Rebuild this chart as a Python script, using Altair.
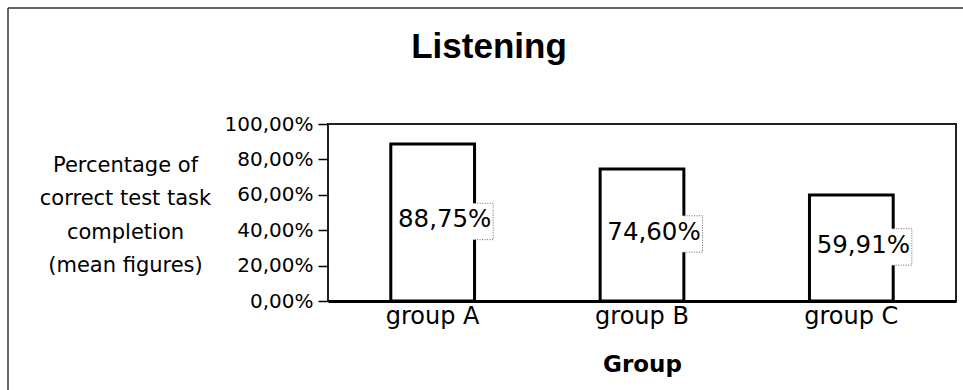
import altair as alt
import pandas as pd

# Mean share of correctly completed listening tasks per group
groups = ["group A", "group B", "group C"]
scores = [88.75, 74.60, 59.91]
y_ticks = [0, 20, 40, 60, 80, 100]
y_title = ["Percentage of", "correct test task", "completion", "(mean figures)"]

df = pd.DataFrame({"group": groups, "score": scores})

W, H = 628, 177
BODY_FONT = "DejaVu Sans"
TITLE_FONT = "Liberation Sans"
PCT_EXPR = "replace(format({v}, '.2f'), '.', ',') + '%'"

# label box: white rectangle plus a dotted bracket on its right-hand side
BOX_SHAPE = "M-1,-0.375L1,-0.375L1,0.375L-1,0.375Z"
BRACKET_SHAPE = "M0.62,-0.375L1,-0.375L1,0.375L0.62,0.375"
BOX_SIZE = 97 * 97
LABEL_DX = 12

x_axis = alt.Axis(
    title="Group",
    titleFont=BODY_FONT,
    titleFontSize=23,
    titleFontWeight="bold",
    titleColor="black",
    titlePadding=25,
    labelFont=BODY_FONT,
    labelFontSize=24,
    labelColor="black",
    labelAngle=0,
    labelPadding=3,
    ticks=False,
    domainColor="black",
    domainWidth=3,
    zindex=1,
)

y_axis = alt.Axis(
    title=y_title,
    titleAngle=0,
    titleAlign="center",
    titleBaseline="middle",
    titleX=-203,
    titleY=41,
    titleFont=BODY_FONT,
    titleFontSize=21,
    titleFontWeight="normal",
    titleLineHeight=33.5,
    titleColor="black",
    values=y_ticks,
    labelExpr=PCT_EXPR.format(v="datum.value"),
    labelFont=BODY_FONT,
    labelFontSize=20,
    labelColor="black",
    labelPadding=5,
    tickSize=10,
    tickColor="black",
    tickWidth=1.5,
    grid=False,
    domain=False,
)

x_scale = alt.Scale(paddingInner=0.6, paddingOuter=0.3)
y_scale = alt.Scale(domain=[0, 100], nice=False)
x_enc = alt.X("group:N", sort=groups, scale=x_scale, axis=x_axis)

bars = alt.Chart(df).mark_bar(
    fill="white", stroke="black", strokeWidth=3
).encode(
    x=x_enc,
    y=alt.Y("score:Q", scale=y_scale, axis=y_axis),
)

labelled = alt.Chart(df).transform_calculate(
    mid="datum.score / 2",
    label=PCT_EXPR.format(v="datum.score"),
)

label_y = alt.Y("mid:Q", scale=y_scale, axis=y_axis)

box = labelled.mark_point(
    shape=BOX_SHAPE, size=BOX_SIZE, filled=True, fill="white",
    strokeWidth=0, opacity=1, xOffset=LABEL_DX, yOffset=-1,
).encode(x=x_enc, y=label_y)

bracket = labelled.mark_point(
    shape=BRACKET_SHAPE, size=BOX_SIZE, filled=False, stroke="#666",
    strokeWidth=1, strokeDash=[1, 1.5], opacity=1, xOffset=LABEL_DX, yOffset=-1,
).encode(x=x_enc, y=label_y)

text = labelled.mark_text(
    font=BODY_FONT, fontSize=24.5, color="black", align="center",
    baseline="middle", dx=LABEL_DX, dy=-2,
).encode(x=x_enc, y=label_y, text="label:N")

# thin outer frame along the left and top edges of the figure
frame_left = alt.Chart(alt.Data(values=[{}])).mark_rule(
    color="#333", strokeWidth=1.5
).encode(x=alt.value(-320), y=alt.value(-116), y2=alt.value(266))

frame_top = alt.Chart(alt.Data(values=[{}])).mark_rule(
    color="#333", strokeWidth=1.5
).encode(x=alt.value(-320), x2=alt.value(635), y=alt.value(-116))

chart = alt.layer(
    bars, box, bracket, text, frame_left, frame_top
).properties(
    width=W,
    height=H,
    title=alt.TitleParams(
        "Listening",
        font=TITLE_FONT,
        fontSize=35,
        fontWeight="bold",
        color="black",
        anchor="middle",
        baseline="alphabetic",
        dx=-153,
        offset=-86,
    ),
    autosize=alt.AutoSizeParams(type="none"),
    padding={"left": 328, "top": 124, "right": 7, "bottom": 89},
).configure(
    background="white"
).configure_view(
    stroke="#222", strokeWidth=2
)

chart.save("out.html", embed_options={"renderer": "svg", "actions": False})
